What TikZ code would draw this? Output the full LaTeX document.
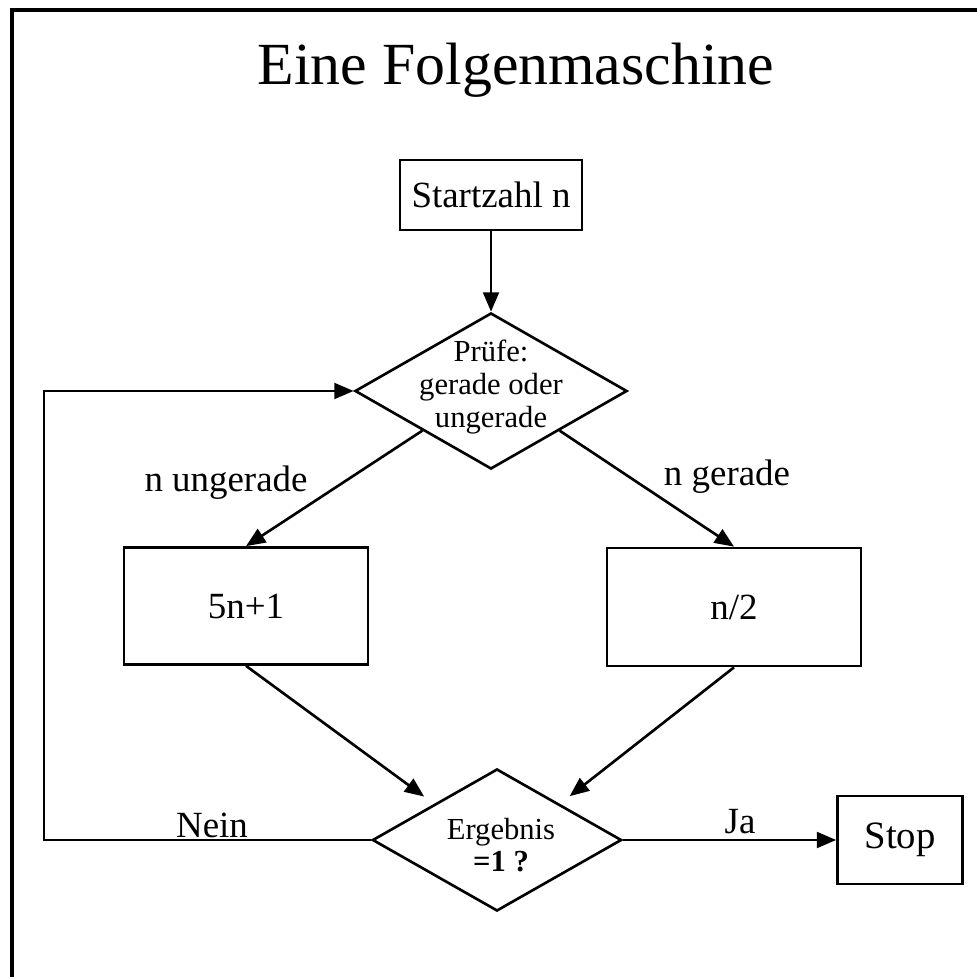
\documentclass[tikz,border=0pt]{standalone}
\usepackage{fontspec}
\setmainfont{Liberation Serif}
\usetikzlibrary{shapes.geometric,arrows.meta}

\begin{document}
\begin{tikzpicture}[x=0.01cm,y=-0.01cm,line width=0.75pt,
    box/.style={draw,rectangle,inner sep=0pt,font=\fontsize{10.5}{12}\selectfont},
    decision/.style={draw,diamond,inner sep=0pt},
    dtext/.style={align=center,font=\fontsize{8.7}{9.3}\selectfont},
    lbl/.style={font=\fontsize{10.5}{12}\selectfont},
    arr/.style={-{Triangle[length=5.5pt,width=4.5pt]}}]
    \useasboundingbox (0,0) rectangle (977,977);
    \draw[line width=0.9pt] (12,977) -- (12,10) -- (977,10);

    \node[font=\fontsize{17}{20}\selectfont] (title) at (516,70) {Eine Folgenmaschine};
    \node[box,minimum width=1.82cm,minimum height=0.70cm] (start) at (491,195) {Startzahl n};
    \node[decision,minimum width=2.72cm,minimum height=1.56cm] (check) at (491,391) {};
    \node[dtext] (checktext) at (491,387) {Prüfe:\\gerade oder\\ungerade};
    \node[box,minimum width=2.44cm,minimum height=1.17cm] (odd) at (246,606) {5n+1};
    \node[box,minimum width=2.54cm,minimum height=1.18cm] (even) at (734,607) {n/2};
    \node[decision,minimum width=2.49cm,minimum height=1.42cm] (result) at (497,840) {};
    \node[dtext] (resulttext) at (501,845) {Ergebnis\\\textbf{=1 ?}};
    \node[box,minimum width=1.25cm,minimum height=0.88cm,font=\fontsize{11}{13}\selectfont] (stop) at (900,840) {Stop};
    \coordinate (back) at (44,840);

    \node[lbl] (oddlbl) at (226,483) {n ungerade};
    \node[lbl] (evenlbl) at (727,477) {n gerade};
    \node[lbl] (nolbl) at (212,825) {Nein};
    \node[lbl] (yeslbl) at (740,822) {Ja};

    \draw[arr] (start) -- (check);
    \draw[arr] (check.south west) -- (odd.north);
    \draw[arr] (check.south east) -- (even.north);
    \draw[arr,shorten >=3.5pt] (odd.south) -- (result.north west);
    \draw[arr,shorten >=3.5pt] (even.south) -- (result.north east);
    \draw[arr] (result.east) -- (stop.west);
    \draw[arr] (result.west) -- (back) |- (check.west);
\end{tikzpicture}
\end{document}
